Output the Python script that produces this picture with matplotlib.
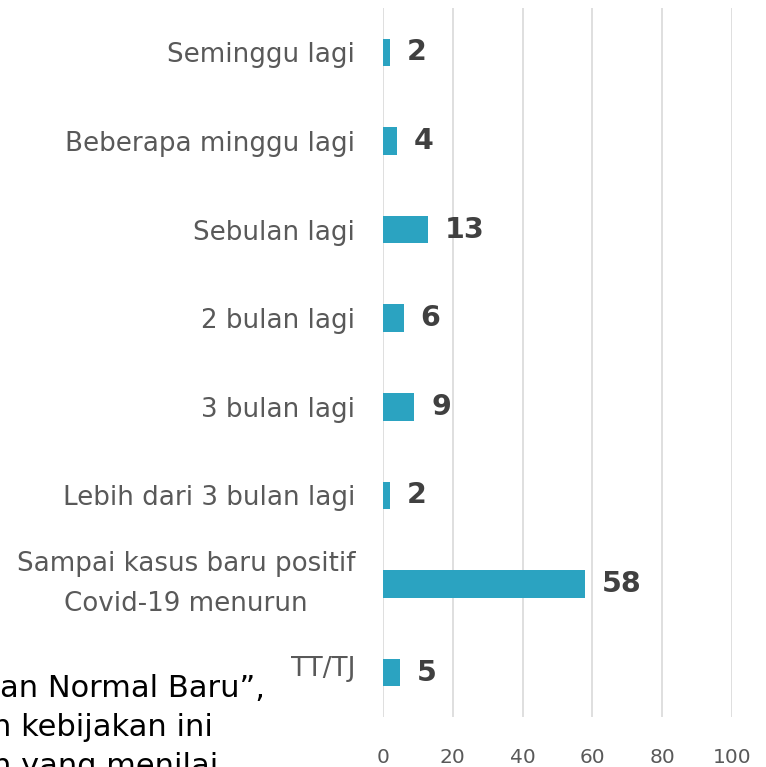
import matplotlib
matplotlib.use("Agg")
import matplotlib.pyplot as plt
from matplotlib.transforms import ScaledTranslation

categories = ["Seminggu lagi", "Beberapa minggu lagi", "Sebulan lagi", "2 bulan lagi",
              "3 bulan lagi", "Lebih dari 3 bulan lagi",
              "Sampai kasus baru positif\nCovid-19 menurun", "TT/TJ"]
values = [2, 4, 13, 6, 9, 2, 58, 5]
xticks = [0, 20, 40, 60, 80, 100]
overlay_lines = ["an Normal Baru\u201d,", "n kebijakan ini", "n yang menilai"]

W, H = 766, 767
fig = plt.figure(figsize=(W / 100, H / 100), dpi=100)
ax = fig.add_axes([383 / W, 1 - 717 / H, (732 - 383) / W, (717 - 8) / H])

ypos = list(range(len(categories)))
ax.barh(ypos, values, height=0.31, color="#2BA3C1", zorder=3)
ax.set_ylim(len(categories) - 0.5, -0.5)
ax.set_xlim(0, 100)
ax.set_xticks(xticks)
ax.set_xticklabels([str(t) for t in xticks], fontsize=14.5, color="#595959",
                   family="DejaVu Sans")
ax.tick_params(axis="x", length=0, pad=22)
ax.set_yticks(ypos)
ax.set_yticklabels(categories, fontsize=18.8, color="#595959",
                   family="DejaVu Sans", linespacing=1.72,
                   multialignment="center")
ax.tick_params(axis="y", length=0, pad=20)
# small vertical nudges (pixels) as in the reference
nudges = {6: 10, 7: 7}
for i, lab in enumerate(ax.get_yticklabels()):
    if i in nudges:
        lab.set_transform(lab.get_transform() +
                          ScaledTranslation(0, nudges[i] / 100, fig.dpi_scale_trans))
for s in ax.spines.values():
    s.set_visible(False)
ax.grid(axis="x", color="#D9D9D9", linewidth=1.2, zorder=0)
ax.set_axisbelow(True)

for y, v in zip(ypos, values):
    ax.annotate(str(v), xy=(v, y), xytext=(12, 0), textcoords="offset points",
                ha="left", va="center", fontsize=20.5, fontweight="bold",
                color="#404040", family="DejaVu Sans")

baselines = [697, 736, 775]
xstarts = [0, -8, -8]
for txt, b, x0 in zip(overlay_lines, baselines, xstarts):
    fig.text(x0 / W, 1 - b / H, txt, fontsize=22, color="black",
             family="DejaVu Sans", ha="left", va="baseline")

fig.savefig("out.png", dpi=100)
